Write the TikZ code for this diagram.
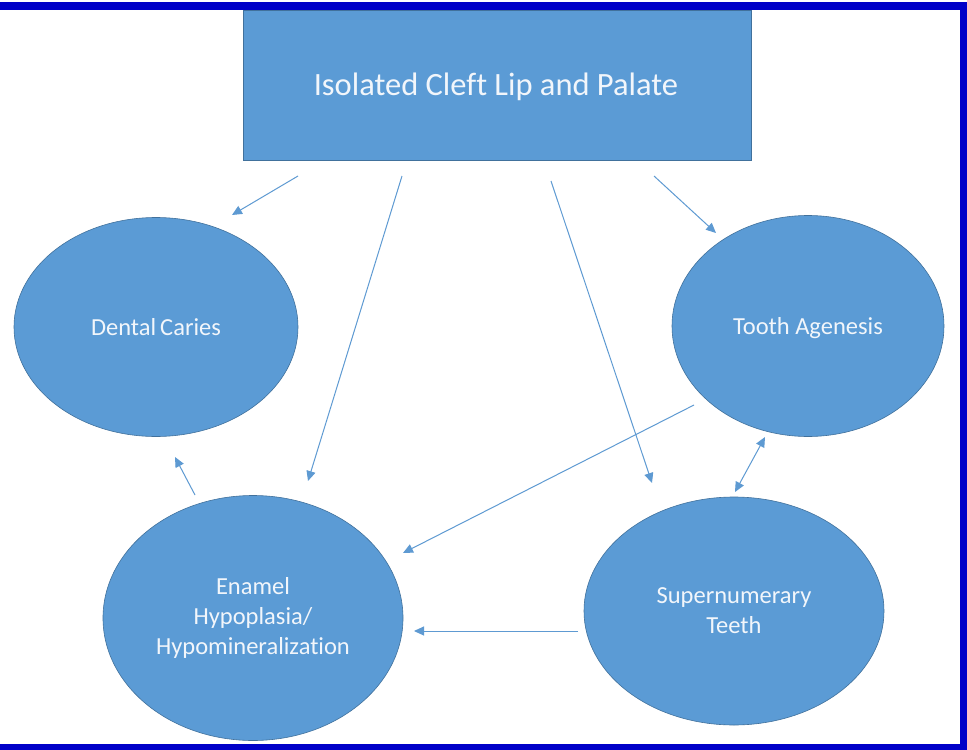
\documentclass[tikz,border=0pt]{standalone}
\usepackage{fontspec}
\setmainfont{Carlito}[Ligatures=NoCommon]
\usetikzlibrary{arrows.meta,shapes.geometric}
\definecolor{boxfill}{HTML}{5B9BD5}
\definecolor{boxline}{HTML}{41719C}
\definecolor{arrowc}{HTML}{5E9AD2}
\definecolor{frame}{HTML}{0000C8}
\definecolor{txt}{HTML}{F2F6FB}
\tikzset{
  shapebox/.style={draw=boxline, line width=0.6pt, fill=boxfill, text=txt, align=center, inner sep=0pt},
  blob/.style={shapebox, ellipse, font=\fontsize{24.5}{30}\selectfont},
  link/.style={draw=arrowc, line width=1pt, -{Triangle[length=10pt,width=9pt]}},
  dlink/.style={draw=arrowc, line width=1pt, {Triangle[length=10pt,width=9pt]}-{Triangle[length=10pt,width=9pt]}}
}
\begin{document}
\begin{tikzpicture}[x=1pt,y=-1pt]
\useasboundingbox (0,0) rectangle (967,750);
\fill[white] (0,0) rectangle (967,750);
% frame
\fill[frame] (0,2) rectangle (967,9.5);
\fill[frame] (960,2) rectangle (967,750);
\fill[frame] (0,744) rectangle (967,750);
% top box
\node[shapebox, rectangle, minimum width=508pt, minimum height=150pt] (top) at (497,85) {};
\node[text=txt, font=\fontsize{32.5}{38}\selectfont, inner sep=0pt] (title) at (496,87) {Isolated Cleft Lip and Palate};
% ellipses
\node[blob, minimum width=284pt, minimum height=219pt] (caries) at (156,327) {Dental\,Caries};
\node[blob, minimum width=272pt, minimum height=221pt] (agen) at (808,326) {};
\node[text=txt, font=\fontsize{24.5}{30}\selectfont, inner sep=0pt] (agentext) at (808,328) {Tooth Agenesis};
\node[blob, minimum width=300pt, minimum height=245pt] (enamel) at (253,618) {Enamel\\Hypoplasia/\\Hypomineralization};
\node[blob, minimum width=300pt, minimum height=228pt] (super) at (734,611) {Supernumerary\\Teeth};
% arrow end points
\coordinate (a1s) at (298,176); \coordinate (a1e) at (232,215);
\coordinate (a2s) at (402,176); \coordinate (a2e) at (308,481);
\coordinate (a3s) at (551,181); \coordinate (a3e) at (652,483);
\coordinate (a4s) at (654,176); \coordinate (a4e) at (716,233);
\coordinate (a5s) at (694,405); \coordinate (a5e) at (403,553);
\coordinate (a6s) at (195,495); \coordinate (a6e) at (175,457);
\coordinate (a7s) at (735,492); \coordinate (a7e) at (765,437);
\coordinate (a8s) at (578,631); \coordinate (a8e) at (414,631);
\draw[link] (a1s) -- (a1e);
\draw[link] (a2s) -- (a2e);
\draw[link] (a3s) -- (a3e);
\draw[link] (a4s) -- (a4e);
\draw[link] (a5s) -- (a5e);
\draw[link] (a6s) -- (a6e);
\draw[dlink] (a7s) -- (a7e);
\draw[link] (a8s) -- (a8e);
\end{tikzpicture}
\end{document}
